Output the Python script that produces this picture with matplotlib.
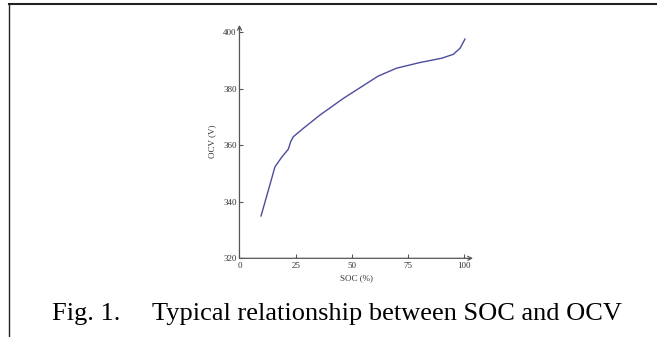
import matplotlib.pyplot as plt
from matplotlib.lines import Line2D

plt.rcParams['font.family'] = ['Liberation Serif', 'DejaVu Serif']

# data
soc = [9.6, 15.8, 18.8, 21.7, 22.8, 23.9, 28.4, 35.8, 46.2, 61.7, 69.9,
       80.3, 89.9, 95.1, 98.1, 100.3]
ocv = [335.0, 352.4, 355.8, 358.6, 361.3, 363.0, 366.0, 370.7, 376.6, 384.5, 387.3,
       389.3, 390.8, 392.2, 394.3, 397.6]
x_ticks = [0, 25, 50, 75, 100]
y_ticks = [320, 340, 360, 380, 400]

fig = plt.figure(figsize=(6.57, 3.37), dpi=100)
ax = fig.add_axes([0.3645, 0.2335, 0.3555, 0.6925])

ax.plot(soc, ocv, color='#4c4c9c', lw=1.0)
ax.set_xlim(0, 103.9)
ax.set_ylim(320, 402.6)

for s in ['top', 'right', 'left', 'bottom']:
    ax.spines[s].set_visible(False)

axis_col = '#555555'
# axes drawn as arrows
ax.annotate('', xy=(1, 0), xytext=(0, 0), xycoords='axes fraction',
            arrowprops=dict(arrowstyle='->', color=axis_col, lw=0.9, shrinkA=0, shrinkB=0,
                            mutation_scale=7))
ax.annotate('', xy=(0, 1), xytext=(0, 0), xycoords='axes fraction',
            arrowprops=dict(arrowstyle='->', color=axis_col, lw=0.9, shrinkA=0, shrinkB=0,
                            mutation_scale=7))

ax.set_xticks(x_ticks)
ax.set_yticks(y_ticks)
ax.tick_params(direction='in', length=3, width=0.8, color=axis_col,
               labelsize=6.5, labelcolor='#333333', pad=2)
ax.tick_params(axis='x', pad=3)
ax.set_xlabel('SOC (%)', fontsize=6.5, color='#333333', labelpad=3)
ax.set_ylabel('OCV (V)', fontsize=6.5, color='#333333', labelpad=5)

# caption
fig.text(52 / 657, 1 - 320 / 337, 'Fig. 1.', fontsize=19, va='baseline', ha='left')
fig.text(152 / 657, 1 - 320 / 337, 'Typical relationship between SOC and OCV',
         fontsize=19, va='baseline', ha='left')

# frame lines of the cut-out
fig.add_artist(Line2D([9 / 657, 1], [1 - 4 / 337, 1 - 4 / 337], color='#222222', lw=1.5,
                      transform=fig.transFigure))
fig.add_artist(Line2D([9 / 657, 9 / 657], [1 - 4 / 337, 0], color='#222222', lw=1.0,
                      transform=fig.transFigure))

fig.savefig('out.png', dpi=100)
